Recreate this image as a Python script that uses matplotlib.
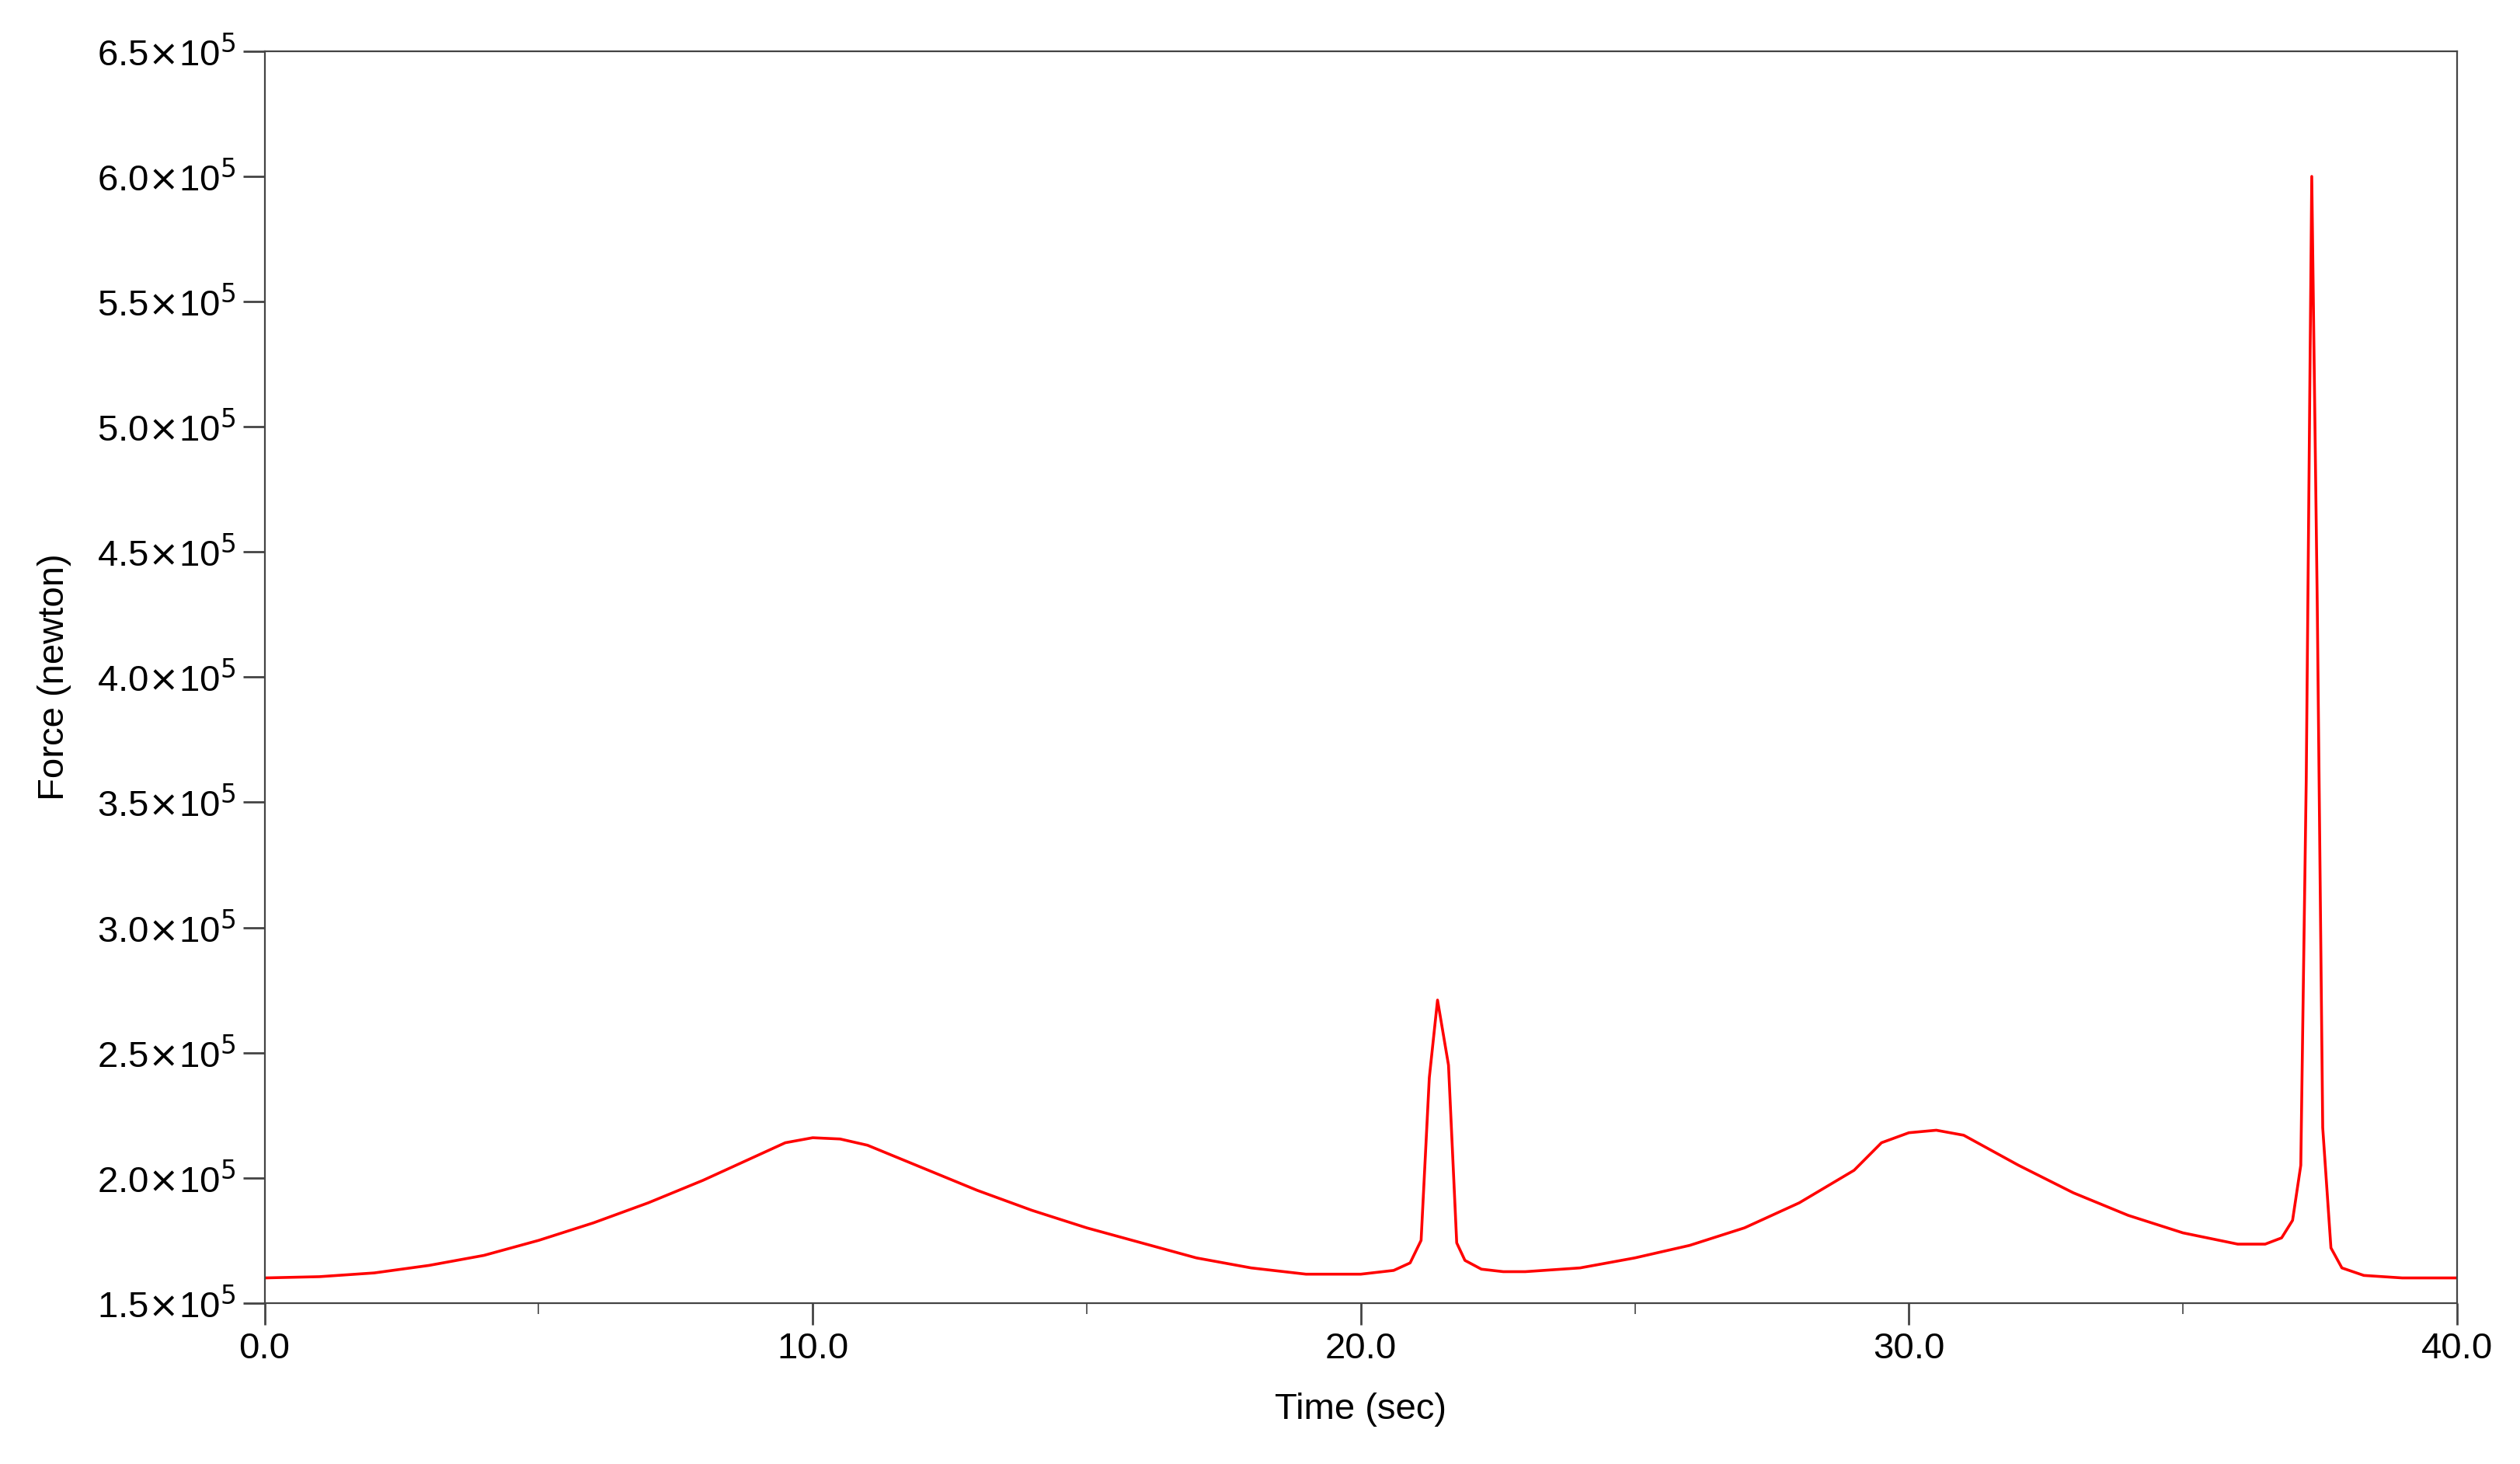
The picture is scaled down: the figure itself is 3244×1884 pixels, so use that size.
import matplotlib.pyplot as plt
from matplotlib.ticker import MultipleLocator, FuncFormatter

plt.rcParams["font.family"] = ["Liberation Sans", "DejaVu Sans"]
plt.rcParams["font.size"] = 17

# values (time in s, force in 1e5 N)
time = [0.0, 1.0, 2.0, 3.0, 4.0, 5.0, 6.0, 7.0, 8.0, 9.0, 9.5, 10.0, 10.5, 11.0,
        12.0, 13.0, 14.0, 15.0, 16.0, 17.0, 18.0, 19.0, 20.0, 20.6, 20.9, 21.1,
        21.25, 21.4, 21.6, 21.75, 21.9, 22.2, 22.6, 23.0, 24.0, 25.0, 26.0, 27.0,
        28.0, 29.0, 29.5, 30.0, 30.5, 31.0, 32.0, 33.0, 34.0, 35.0, 36.0, 36.5,
        36.8, 37.0, 37.15, 37.25, 37.35, 37.45, 37.55, 37.7, 37.9, 38.3, 39.0, 40.0]
force = [1.60, 1.605, 1.62, 1.65, 1.69, 1.75, 1.82, 1.90, 1.99, 2.09, 2.14, 2.16, 2.155, 2.13,
         2.04, 1.95, 1.87, 1.80, 1.74, 1.68, 1.64, 1.615, 1.615, 1.63, 1.66, 1.75,
         2.40, 2.71, 2.45, 1.74, 1.67, 1.635, 1.625, 1.625, 1.64, 1.68, 1.73, 1.80,
         1.90, 2.03, 2.14, 2.18, 2.19, 2.17, 2.05, 1.94, 1.85, 1.78, 1.735, 1.735,
         1.76, 1.83, 2.05, 3.6, 6.0, 4.3, 2.2, 1.72, 1.64, 1.61, 1.60, 1.60]

fig, ax = plt.subplots(figsize=(16.22, 9.42), dpi=200)
fig.subplots_adjust(left=0.105, right=0.975, top=0.965, bottom=0.11)

ax.plot(time, [f * 1e5 for f in force], color="red", linewidth=1.3)

ax.set_xlim(0, 40)
ax.set_ylim(1.5e5, 6.5e5)
ax.xaxis.set_major_locator(MultipleLocator(10))
ax.xaxis.set_minor_locator(MultipleLocator(5))
ax.yaxis.set_major_locator(MultipleLocator(0.5e5))
ax.xaxis.set_major_formatter(FuncFormatter(lambda v, p: f"{v:.1f}"))
ax.yaxis.set_major_formatter(
    FuncFormatter(lambda v, p: r"%.1f$\times$10$^{5}$" % (v / 1e5)))
ax.tick_params(direction="out", length=10, width=1, color="#444444")
ax.tick_params(which="minor", direction="out", length=5, color="#444444")
for s in ax.spines.values():
    s.set_color("#444444")

ax.set_xlabel("Time (sec)", labelpad=12)
ax.set_ylabel("Force (newton)", labelpad=12)

fig.savefig("out.png", dpi=200)
